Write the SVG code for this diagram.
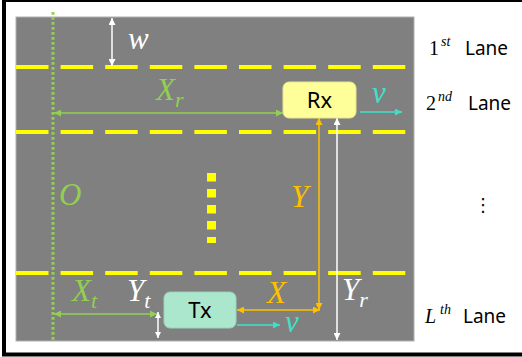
<svg xmlns="http://www.w3.org/2000/svg" width="522" height="357" viewBox="0 0 522 357">
<style>
.math{font-family:"Liberation Serif","DejaVu Serif",serif;font-style:italic;font-size:31px}
.sub{font-size:22px}
.lane{font-family:"Noto Sans","Open Sans",sans-serif;font-size:19px;fill:#000}
.sup{font-family:"Liberation Serif","DejaVu Serif",serif;font-style:italic;font-size:14px}
.num{font-family:"Liberation Serif","DejaVu Serif",serif;font-size:20px}
.node{font-family:"Noto Sans","Open Sans",sans-serif;font-size:22px;fill:#000;text-anchor:middle}
.dash{stroke:#ffff00;stroke-width:4;stroke-dasharray:32.5 12.1;fill:none}
.conn line{stroke-width:1.5;fill:none}
.g{stroke:#92d050}.o{stroke:#ffc000}.w{stroke:#ffffff}.c{stroke:#40e0c8}
</style>
<defs>
<marker id="aG" viewBox="0 0 10 10" refX="10" refY="5" markerWidth="9" markerHeight="7" markerUnits="userSpaceOnUse" orient="auto-start-reverse"><path d="M0,0L10,5L0,10z" fill="#92d050"/></marker>
<marker id="aO" viewBox="0 0 10 10" refX="10" refY="5" markerWidth="9" markerHeight="7" markerUnits="userSpaceOnUse" orient="auto-start-reverse"><path d="M0,0L10,5L0,10z" fill="#ffc000"/></marker>
<marker id="aW" viewBox="0 0 10 10" refX="10" refY="5" markerWidth="9" markerHeight="7" markerUnits="userSpaceOnUse" orient="auto-start-reverse"><path d="M0,0L10,5L0,10z" fill="#ffffff"/></marker>
<marker id="aWs" viewBox="0 0 10 10" refX="10" refY="5" markerWidth="7" markerHeight="6" markerUnits="userSpaceOnUse" orient="auto-start-reverse"><path d="M0,0L10,5L0,10z" fill="#ffffff"/></marker>
<marker id="aC" viewBox="0 0 10 10" refX="10" refY="5" markerWidth="9" markerHeight="7" markerUnits="userSpaceOnUse" orient="auto-start-reverse"><path d="M0,0L10,5L0,10z" fill="#40e0c8"/></marker>
</defs>
<rect x="0" y="0" width="522" height="357" fill="#ffffff"/>
<rect x="4" y="0" width="530" height="354.5" fill="none" stroke="#000" stroke-width="4"/>
<g id="road">
<rect x="16" y="17" width="398" height="324" fill="#808080" stroke="#b0b0b0" stroke-width="1"/>
<line class="dash" x1="16" y1="67" x2="414" y2="67"/>
<line class="dash" x1="16" y1="132" x2="414" y2="132"/>
<line class="dash" x1="16" y1="273" x2="414" y2="273"/>
<line x1="211.5" y1="173" x2="211.5" y2="243" stroke="#ffff00" stroke-width="9" stroke-dasharray="8.5 7.5"/>
<line x1="53" y1="12" x2="53" y2="341" stroke="#92d050" stroke-width="3" stroke-dasharray="2.7 2.3"/>
</g>
<g id="connectors" class="conn">
<line class="w" x1="112" y1="18" x2="112" y2="66" marker-start="url(#aW)" marker-end="url(#aW)"/>
<line class="g" x1="54" y1="113" x2="283" y2="113" marker-start="url(#aG)" marker-end="url(#aG)"/>
<line class="c" x1="360" y1="112" x2="402" y2="112" marker-end="url(#aC)"/>
<line class="o" x1="319" y1="118" x2="319" y2="310" marker-start="url(#aO)" marker-end="url(#aO)"/>
<line class="o" x1="237" y1="310" x2="320" y2="310" marker-start="url(#aO)" marker-end="url(#aO)"/>
<line class="w" x1="337" y1="118" x2="337" y2="340" marker-start="url(#aW)" marker-end="url(#aW)"/>
<line class="g" x1="54" y1="314" x2="157" y2="314" marker-start="url(#aG)" marker-end="url(#aG)"/>
<line class="w" x1="158" y1="312" x2="158" y2="338" marker-start="url(#aWs)" marker-end="url(#aWs)"/>
<line class="c" x1="237" y1="325" x2="280" y2="325" marker-end="url(#aC)"/>
</g>
<g id="Rx">
<rect x="283" y="82" width="73" height="36" rx="6" fill="#ffff99" stroke="#e6e68a" stroke-width="1"/>
<text class="node" x="319.5" y="107.5">Rx</text>
</g>
<g id="Tx">
<rect x="164" y="292" width="72" height="36" rx="6" fill="#abe7cd" stroke="#9ad3bb" stroke-width="1"/>
<text class="node" x="200" y="317.5">Tx</text>
</g>
<g id="labels">
<text class="math" x="128" y="49" fill="#ffffff">w</text>
<text class="math" x="156" y="100" fill="#92d050">X<tspan class="sub" dy="7">r</tspan></text>
<text class="math" x="59" y="205" fill="#92d050">O</text>
<text class="math" x="291" y="207" fill="#ffc000">Y</text>
<text class="math" x="72" y="301" fill="#92d050">X<tspan class="sub" dy="7">t</tspan></text>
<text class="math" x="127" y="301" fill="#ffffff">Y<tspan class="sub" dy="7">t</tspan></text>
<text class="math" x="267" y="303" fill="#ffc000">X</text>
<text class="math" x="342" y="300" fill="#ffffff">Y<tspan class="sub" dy="7">r</tspan></text>
<text class="math" x="372" y="103" fill="#40e0c8">v</text>
<text class="math" x="285" y="332" fill="#40e0c8">v</text>
<text class="num" x="429" y="55">1</text><text class="sup" x="441" y="46">st</text><text class="lane" x="465" y="55">Lane</text>
<text class="num" x="426" y="110">2</text><text class="sup" x="438" y="101">nd</text><text class="lane" x="468" y="110">Lane</text>
<text x="483" y="211" font-family="DejaVu Sans,sans-serif" font-size="18" text-anchor="middle" fill="#000">⋮</text>
<text class="num" x="425" y="323" font-style="italic">L</text><text class="sup" x="440" y="314">th</text><text class="lane" x="463" y="323">Lane</text>
</g>
</svg>
